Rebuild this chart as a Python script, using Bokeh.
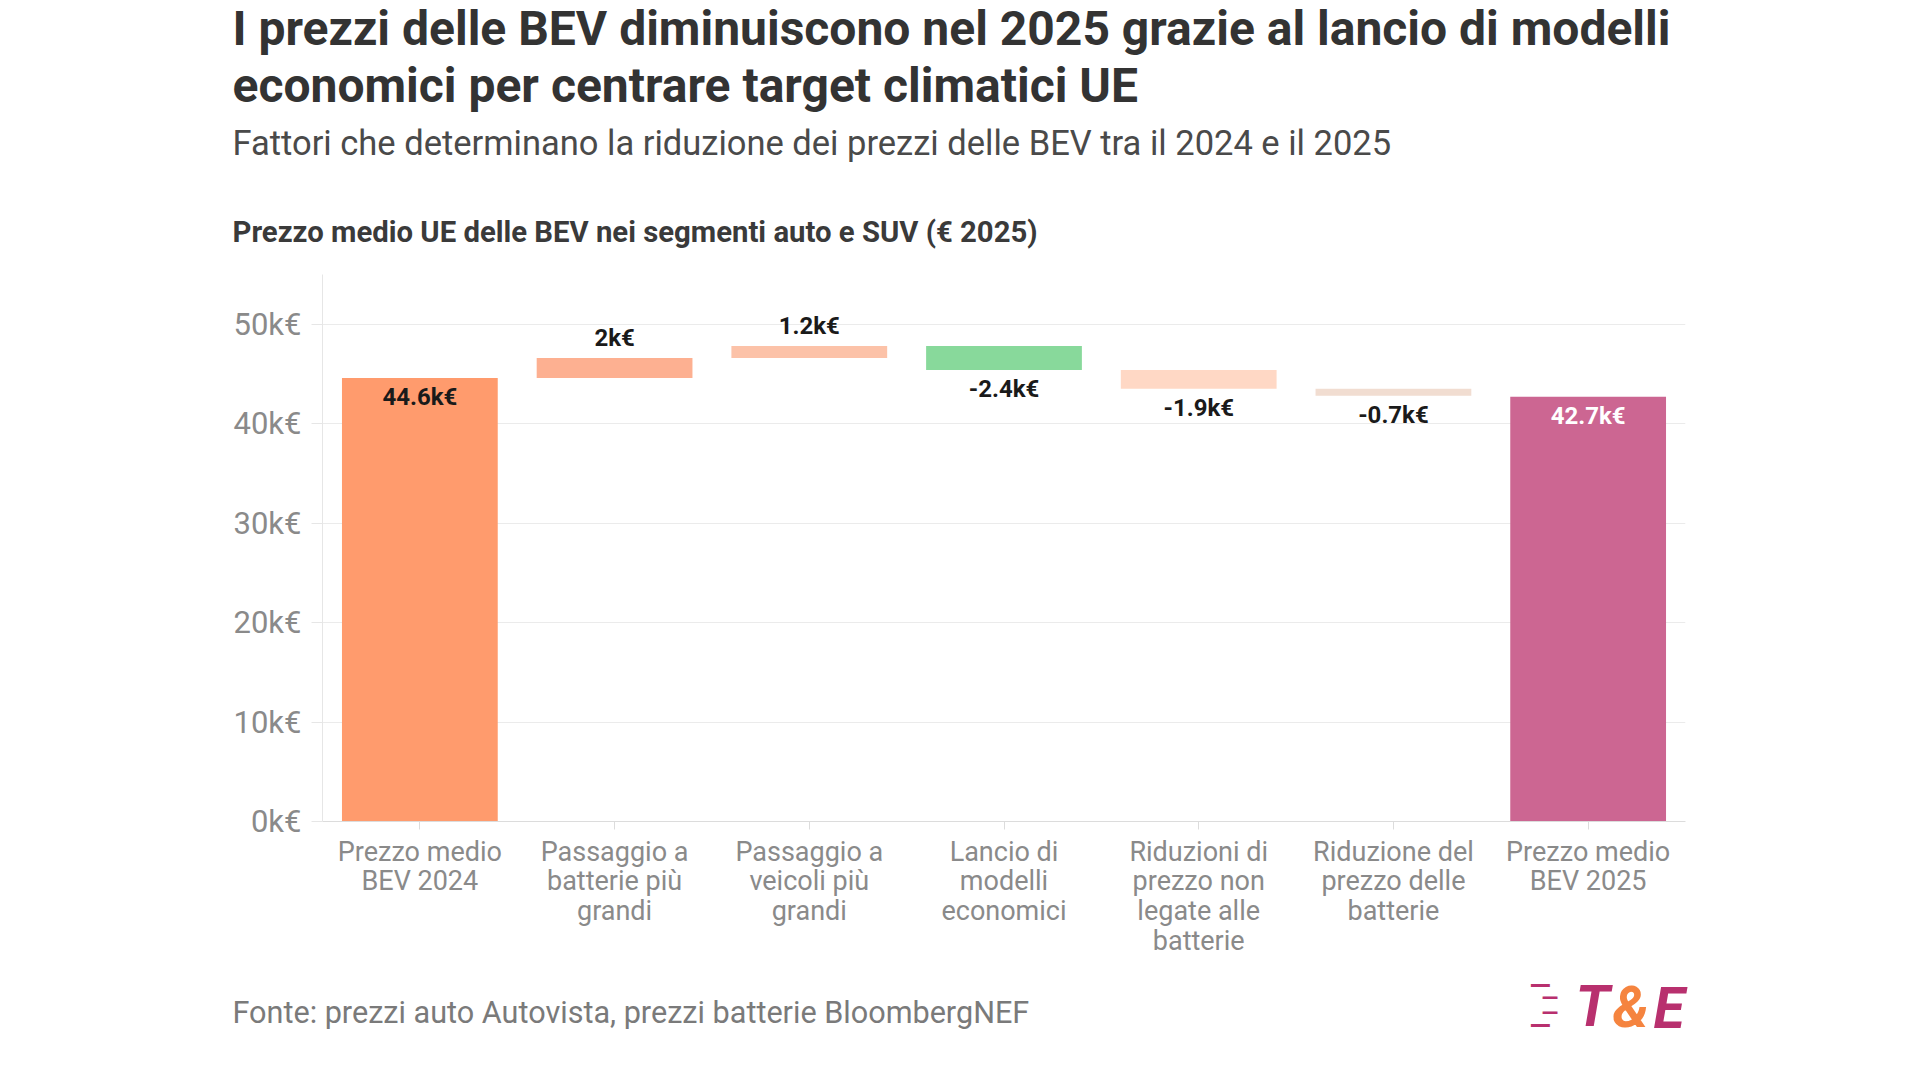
from bokeh.plotting import figure
from bokeh.models import (FactorRange, Range1d, ColumnDataSource, FixedTicker,
                          PrintfTickFormatter, Title)
from bokeh.core.properties import value
from bokeh.embed import file_html
from bokeh.resources import INLINE

# ---------------- data ----------------
categories = [
    "Prezzo medio\nBEV 2024",
    "Passaggio a\nbatterie più\ngrandi",
    "Passaggio a\nveicoli più\ngrandi",
    "Lancio di\nmodelli\neconomici",
    "Riduzioni di\nprezzo non\nlegate alle\nbatterie",
    "Riduzione del\nprezzo delle\nbatterie",
    "Prezzo medio\nBEV 2025",
]
start_value = 44.6
changes = [2.0, 1.2, -2.4, -1.9, -0.7]
end_value = 42.7
bar_colors = ["#FF9B6D", "#FDB091", "#FCC2A8", "#88D99B", "#FFD8C5", "#F1DDD1", "#CC6692"]
y_ticks = [0, 10, 20, 30, 40, 50]

title_lines = [
    "I prezzi delle BEV diminuiscono nel 2025 grazie al lancio di modelli",
    "economici per centrare target climatici UE",
]
subtitle = "Fattori che determinano la riduzione dei prezzi delle BEV tra il 2024 e il 2025"
chart_title = "Prezzo medio UE delle BEV nei segmenti auto e SUV (€ 2025)"
source_text = "Fonte: prezzi auto Autovista, prezzi batterie BloombergNEF"
logo_parts = ["T", "&", "E"]

# ---------------- waterfall geometry from data ----------------
values = [start_value] + changes + [end_value]
bottoms, tops = [], []
running = 0.0
for i, v in enumerate(values):
    if i == 0 or i == len(values) - 1:
        bottoms.append(0.0)
        tops.append(v)
        running = v
    else:
        b = running
        running = running + v
        bottoms.append(min(b, running))
        tops.append(max(b, running))

labels, label_y, label_off, label_col = [], [], [], []
for i, v in enumerate(values):
    labels.append(f"{v:g}k€")
    if i == 0:
        label_y.append(tops[i]); label_off.append(19); label_col.append("#1a1a1a")
    elif i == len(values) - 1:
        label_y.append(tops[i]); label_off.append(19); label_col.append("#ffffff")
    elif v >= 0:
        label_y.append(tops[i]); label_off.append(-20); label_col.append("#1a1a1a")
    else:
        label_y.append(bottoms[i]); label_off.append(19); label_col.append("#1a1a1a")

src = ColumnDataSource(dict(x=categories, top=tops, bottom=bottoms, color=bar_colors))
lsrc = ColumnDataSource(dict(x=categories, y=label_y, text=labels, off=label_off, col=label_col))

FONT = "Roboto"
W, H = 1904, 1064
LEFT, FRAME_W = 322, 1363
FRAME_TOP = 274

p = figure(
    width=W, height=H,
    x_range=FactorRange(*categories, range_padding=0),
    y_range=Range1d(0, 55),
    output_backend="svg", toolbar_location=None,
    min_border_left=LEFT, min_border_right=W - LEFT - FRAME_W,
    min_border_top=0, min_border_bottom=243,
)
p.outline_line_color = None

p.vbar(x="x", top="top", bottom="bottom", width=0.8, color="color", source=src, line_color=None)
p.text(x="x", y="y", text="text", y_offset="off", text_color="col", source=lsrc,
       text_align="center", text_baseline="middle", text_font=value(FONT),
       text_font_style="bold", text_font_size="24px")

p.xgrid.grid_line_color = None
p.ygrid.grid_line_color = "#ebebeb"
p.ygrid.grid_line_width = 1

p.yaxis.ticker = FixedTicker(ticks=y_ticks)
p.yaxis.formatter = PrintfTickFormatter(format="%dk€")
p.yaxis.axis_line_color = "#e6e6e6"
p.yaxis.major_tick_line_color = "#e6e6e6"
p.yaxis.major_tick_out = 11
p.yaxis.major_tick_in = 0
p.yaxis.minor_tick_line_color = None
p.yaxis.major_label_standoff = 10
p.yaxis.major_label_text_font = FONT
p.yaxis.major_label_text_font_size = "31px"
p.yaxis.major_label_text_color = "#8a8a8a"

p.xaxis.axis_line_color = "#dcdcdc"
p.xaxis.major_tick_line_color = "#dcdcdc"
p.xaxis.major_tick_out = 8
p.xaxis.major_tick_in = 0
p.xaxis.major_label_standoff = 6
p.xaxis.major_label_text_font = FONT
p.xaxis.major_label_text_font_size = "27px"
p.xaxis.major_label_text_color = "#8a8a8a"
p.xaxis.major_label_text_line_height = 0.93

TX = -90  # horizontal offset of the left-aligned texts from the frame edge


def zero_h(size):
    return -int(round(2 + 1.172 * size)) + 1


def residual(size):
    return 2 + 1.172 * size + zero_h(size)


def ttl(text, size, color, style="normal", offset=TX, font=FONT):
    # a title whose own panel is (almost) zero high, centred on the panel's top edge
    return Title(text=text, text_font=font, text_font_size=f"{size}px", text_color=color,
                 text_font_style=style, align="left", vertical_align="middle",
                 offset=offset, standoff=zero_h(size))


def spacer(height):
    # an empty one-space title used only as vertical spacing
    return Title(text=" ", text_font_size="1px", standoff=int(round(height - 3.2)))


# header: list from the top of the page down to the frame, with wanted text centres
header = [  # (text, size, color, style, centre y)
    (title_lines[0], 48, "#333333", "bold", 27.0),
    (title_lines[1], 48, "#333333", "bold", 83.3),
    (subtitle, 34.5, "#4a4a4a", "normal", 140.8),
    (chart_title, 29.3, "#3a3a3a", "bold", 230.2),
]
items = []
prev = 0.0
for text, size, color, style, cy in header:
    items.append(spacer(cy - prev))
    items.append(ttl(text, size, color, style))
    prev = cy + residual(size)
items.append(spacer(FRAME_TOP - prev))
for it in reversed(items):  # first added = nearest to the frame
    p.add_layout(it, "above")

# footer (below the x axis)
LOGO_C = "#B8306E"
p.add_layout(spacer(25), "below")
p.add_layout(ttl("—", 28, LOGO_C, "bold", offset=1207), "below")
p.add_layout(spacer(13), "below")
p.add_layout(ttl("—", 22, LOGO_C, "bold", offset=1219), "below")
p.add_layout(spacer(7), "below")
p.add_layout(ttl(logo_parts[0], 57, LOGO_C, "bold italic", offset=1253), "below")
p.add_layout(ttl(logo_parts[1], 57, "#F5843F", "bold italic", offset=1290), "below")
p.add_layout(ttl(logo_parts[2], 57, LOGO_C, "bold italic", offset=1331), "below")
p.add_layout(spacer(4), "below")
p.add_layout(ttl(source_text, 30.6, "#7a7a7a"), "below")
p.add_layout(spacer(1.2), "below")
p.add_layout(ttl("—", 22, LOGO_C, "bold", offset=1219), "below")
p.add_layout(spacer(11), "below")
p.add_layout(ttl("—", 28, LOGO_C, "bold", offset=1207), "below")

open("out.html", "w").write(file_html(p, INLINE))
